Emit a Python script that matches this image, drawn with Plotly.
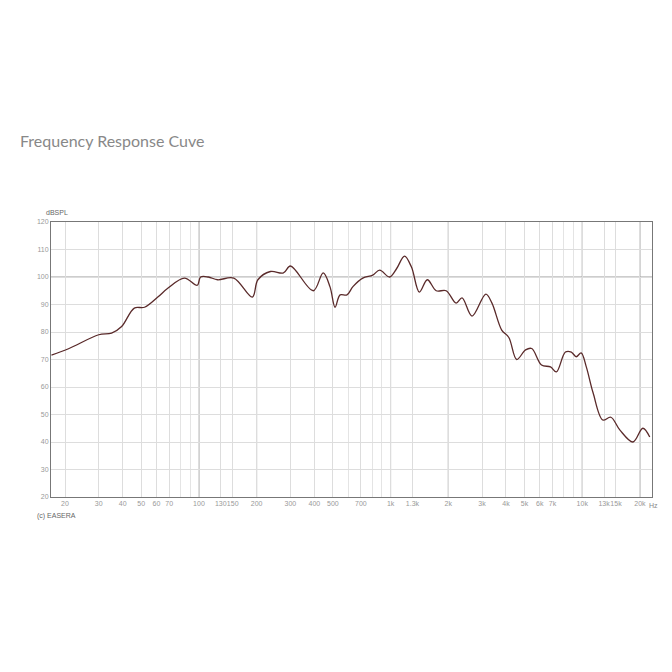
import plotly.graph_objects as go

# frequency response
freq = [17, 21, 30, 35, 39.5, 46, 52, 61, 69, 84, 98, 102, 112, 125, 152, 190, 203, 236, 276,
        300, 395, 445, 483, 513, 545, 592, 636, 716, 807, 877, 988, 1074, 1182, 1285, 1413,
        1555, 1730, 1950, 2197, 2360, 2660, 3140, 3380, 3800, 4140, 4550, 5060, 5450, 6130,
        6830, 7330, 8170, 8770, 9300, 9870, 10500, 11400, 12800, 14100, 15700, 18400, 20700, 22500]
spl = [71.6, 74, 79, 79.6, 82, 88.7, 89, 92.7, 96, 99.6, 97, 100, 100, 99, 99.6, 92.7, 99, 102, 101.5,
       104, 95, 101.5, 96.4, 89, 93.5, 93.5, 96.5, 99.6, 100.7, 102.5, 100, 103, 107.6, 103.6, 94.5,
       99, 95, 95, 90.5, 92.4, 85.8, 93.8, 90.5, 80.7, 78, 70, 73.5, 74, 68,
       67.3, 65.5, 72.7, 72.7, 71, 72.4, 67.3, 57.8, 48, 49, 44.4, 40, 45, 41.8]

tick_vals = [20, 30, 40, 50, 60, 70, 100, 130, 150, 200, 300, 400, 500, 700,
             1000, 1300, 2000, 3000, 4000, 5000, 6000, 7000, 10000, 13000, 15000, 20000]
tick_text = ['20', '30', '40', '50', '60', '70', '100', '130', '150', '200', '300', '400', '500', '700',
             '1k', '1.3k', '2k', '3k', '4k', '5k', '6k', '7k', '10k', '13k', '15k', '20k']
minor_vals = [m * d for d in (10, 100, 1000, 10000) for m in range(1, 10) if 16 < m * d < 24000]
strong = [100, 200, 1000, 2000, 10000, 20000]

fig = go.Figure(go.Scatter(x=freq, y=spl, mode='lines', line=dict(color='#5a2a2a', width=1.3, shape='spline')))

for f in strong:
    fig.add_shape(type='line', xref='x', yref='paper', x0=f, x1=f, y0=0, y1=1,
                  line=dict(color='#9a9a9a', width=1), layer='below')
fig.add_shape(type='line', xref='paper', yref='y', x0=0, x1=1, y0=100, y1=100,
              line=dict(color='#9a9a9a', width=1), layer='below')

fig.update_layout(
    width=672, height=672, plot_bgcolor='white', paper_bgcolor='white',
    margin=dict(l=43, r=28, t=214, b=183), showlegend=False,
    font=dict(family='Liberation Sans', size=7, color='#999'),
    xaxis=dict(type='log', range=[1.228, 4.364], tickvals=tick_vals, ticktext=tick_text,
               tickangle=0, automargin=False,
               showgrid=True, gridcolor='#dddddd', gridwidth=1, ticks='',
               minor=dict(tickvals=minor_vals, showgrid=True, gridcolor='#e4e4e4'),
               showline=True, linecolor='#777', mirror=True, zeroline=False),
    yaxis=dict(range=[20, 120], dtick=10, showgrid=True, gridcolor='#dddddd', automargin=False,
               showline=True, linecolor='#777', mirror=True, zeroline=False, ticks=''),
    annotations=[
        dict(text='Frequency Response Cuve', x=18, y=140, showarrow=False,
             font=dict(family='Lato', size=16, color='#888')),
        dict(text='dBSPL', x=44, y=212, showarrow=False, font=dict(size=7, color='#666')),
        dict(text='(c) EASERA', x=35, y=516, showarrow=False, font=dict(size=7, color='#666')),
        dict(text='Hz', x=660, y=505, showarrow=False, font=dict(size=7, color='#888')),
    ],
)
# place text annotations in pixel coordinates (plot area spans 51..652 x 222..497 on screen)
for a in fig.layout.annotations:
    a.update(xref='paper', yref='paper', x=(a.x - 51) / 601, y=(497 - a.y) / 275, yanchor='middle')
fig.layout.annotations[0].update(xanchor='left', x=(18 - 51) / 601)

fig.write_html("out.html")
